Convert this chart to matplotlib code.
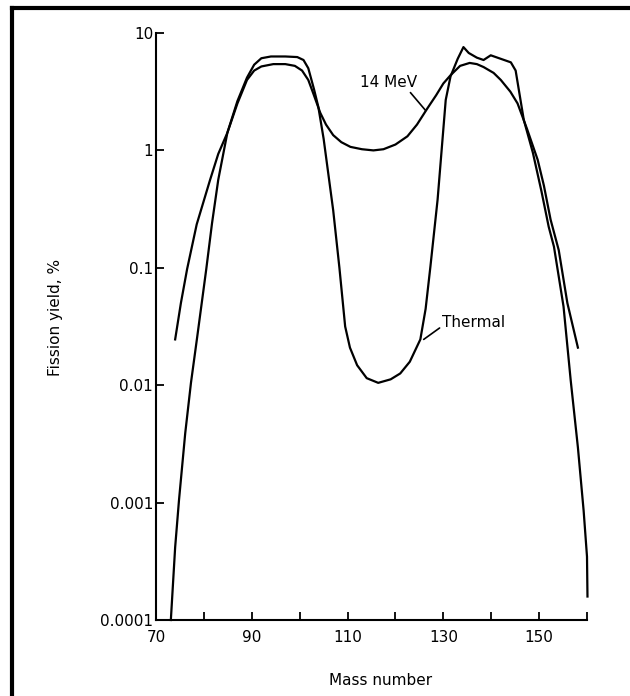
import numpy as np
import matplotlib
matplotlib.use('Agg')
import matplotlib.pyplot as plt
from matplotlib.lines import Line2D

# mass number and log10(yield %)
thermal_A = [73.1, 74.0, 74.8, 76.1, 77.3, 78.6, 80.5, 81.7, 83.0, 84.9, 87.0, 89.0,
             90.5, 92.0, 94.0, 97.0, 99.5, 100.8, 101.8, 103.0, 103.9, 105.0, 107.0,
             108.3, 109.5, 110.5, 112.0, 114.0, 116.4, 119.0, 121.0, 123.0, 125.2,
             126.3, 127.3, 128.8, 130.5, 131.5, 133.0, 134.2, 135.3, 137.0, 138.4,
             139.9, 142.0, 144.1, 145.1, 146.8, 148.7, 150.5, 152.0, 153.1, 155.1,
             156.6, 158.1, 159.3, 160.0, 160.1]
thermal_log = [-4.0, -3.38, -2.98, -2.41, -1.98, -1.59, -1.01, -0.62, -0.25, 0.15, 0.42, 0.62,
               0.73, 0.785, 0.80, 0.80, 0.795, 0.77, 0.70, 0.52, 0.37, 0.10, -0.51,
               -1.0, -1.50, -1.68, -1.83, -1.94, -1.98, -1.95, -1.90, -1.80, -1.61,
               -1.35, -0.99, -0.42, 0.43, 0.63, 0.78, 0.88, 0.83, 0.79, 0.77,
               0.81, 0.78, 0.75, 0.68, 0.26, -0.02, -0.35, -0.65, -0.82, -1.33,
               -1.96, -2.53, -3.07, -3.46, -3.80]

mev14_A = [74.0, 75.2, 76.5, 78.5, 81.3, 83.0, 84.9, 87.0, 89.0, 90.5, 92.0, 94.5,
           97.0, 99.0, 100.5, 101.8, 102.8, 104.3, 105.5, 107.0, 108.7, 110.6, 113.0,
           115.4, 117.5, 120.0, 122.5, 124.5, 126.7, 128.5, 130.0, 131.5, 133.5,
           135.5, 137.0, 138.4, 140.5, 142.0, 144.0, 145.5, 147.5, 149.7, 151.0,
           152.4, 154.1, 155.9, 158.1]
mev14_log = [-1.61, -1.30, -1.01, -0.63, -0.25, -0.03, 0.15, 0.40, 0.60, 0.68, 0.715, 0.735,
             0.735, 0.72, 0.68, 0.60, 0.49, 0.32, 0.22, 0.13, 0.07, 0.03, 0.01,
             0.0, 0.01, 0.05, 0.12, 0.22, 0.36, 0.47, 0.57, 0.64, 0.72,
             0.745, 0.735, 0.71, 0.66, 0.60, 0.50, 0.40, 0.18, -0.08, -0.30,
             -0.59, -0.85, -1.30, -1.68]

x_ticks = [70, 80, 90, 100, 110, 120, 130, 140, 150, 160]
x_labels = ['70', '', '90', '', '110', '', '130', '', '150', '']
y_ticks = [1e-4, 1e-3, 1e-2, 1e-1, 1, 10]
y_labels = ['0.0001', '0.001', '0.01', '0.1', '1', '10']

plt.rcParams['font.family'] = 'DejaVu Sans'

fig = plt.figure(figsize=(6.3, 6.96), dpi=100)
ax = fig.add_axes([156/630, 1 - 620/696, 431/630, 587/696])

ax.plot(thermal_A, 10 ** np.array(thermal_log), color='black', lw=1.6, clip_on=False)
ax.plot(mev14_A, 10 ** np.array(mev14_log), color='black', lw=1.6, clip_on=False)

ax.set_yscale('log')
ax.set_xlim(70, 160)
ax.set_ylim(1e-4, 10)
ax.set_xticks(x_ticks)
ax.set_xticklabels(x_labels)
ax.set_yticks(y_ticks)
ax.set_yticklabels(y_labels)
ax.minorticks_off()
ax.tick_params(direction='in', length=6, width=1.3, labelsize=11, colors='black')
ax.tick_params(axis='x', pad=7)
ax.tick_params(axis='y', pad=2)
for side in ['top', 'right']:
    ax.spines[side].set_visible(False)
for side in ['left', 'bottom']:
    ax.spines[side].set_linewidth(1.5)

ax.set_xlabel('Mass number', fontsize=11)
ax.set_ylabel('Fission yield, %', fontsize=11)
ax.xaxis.set_label_coords(0.52, -0.09)
ax.yaxis.set_label_coords(-0.216, 0.516)

ax.annotate('14 MeV', xy=(126.3, 10 ** 0.34), xytext=(112.5, 10 ** 0.58),
            fontsize=11, va='center', ha='left',
            arrowprops=dict(arrowstyle='-', color='black', lw=1.2,
                            shrinkA=0, shrinkB=0, relpos=(0.85, 0.0)))
ax.annotate('Thermal', xy=(125.9, 10 ** -1.61), xytext=(129.8, 10 ** -1.47),
            fontsize=11, va='center', ha='left',
            arrowprops=dict(arrowstyle='-', color='black', lw=1.2,
                            shrinkA=0, shrinkB=0, relpos=(0.0, 0.3)))

# frame around the picture (only top and left edges are visible)
fig.add_artist(Line2D([12/630, 12/630], [0, 1 - 8/696], transform=fig.transFigure,
                      color='black', lw=3))
fig.add_artist(Line2D([12/630, 1], [1 - 8/696, 1 - 8/696], transform=fig.transFigure,
                      color='black', lw=3))

plt.savefig('out.png', dpi=100)
